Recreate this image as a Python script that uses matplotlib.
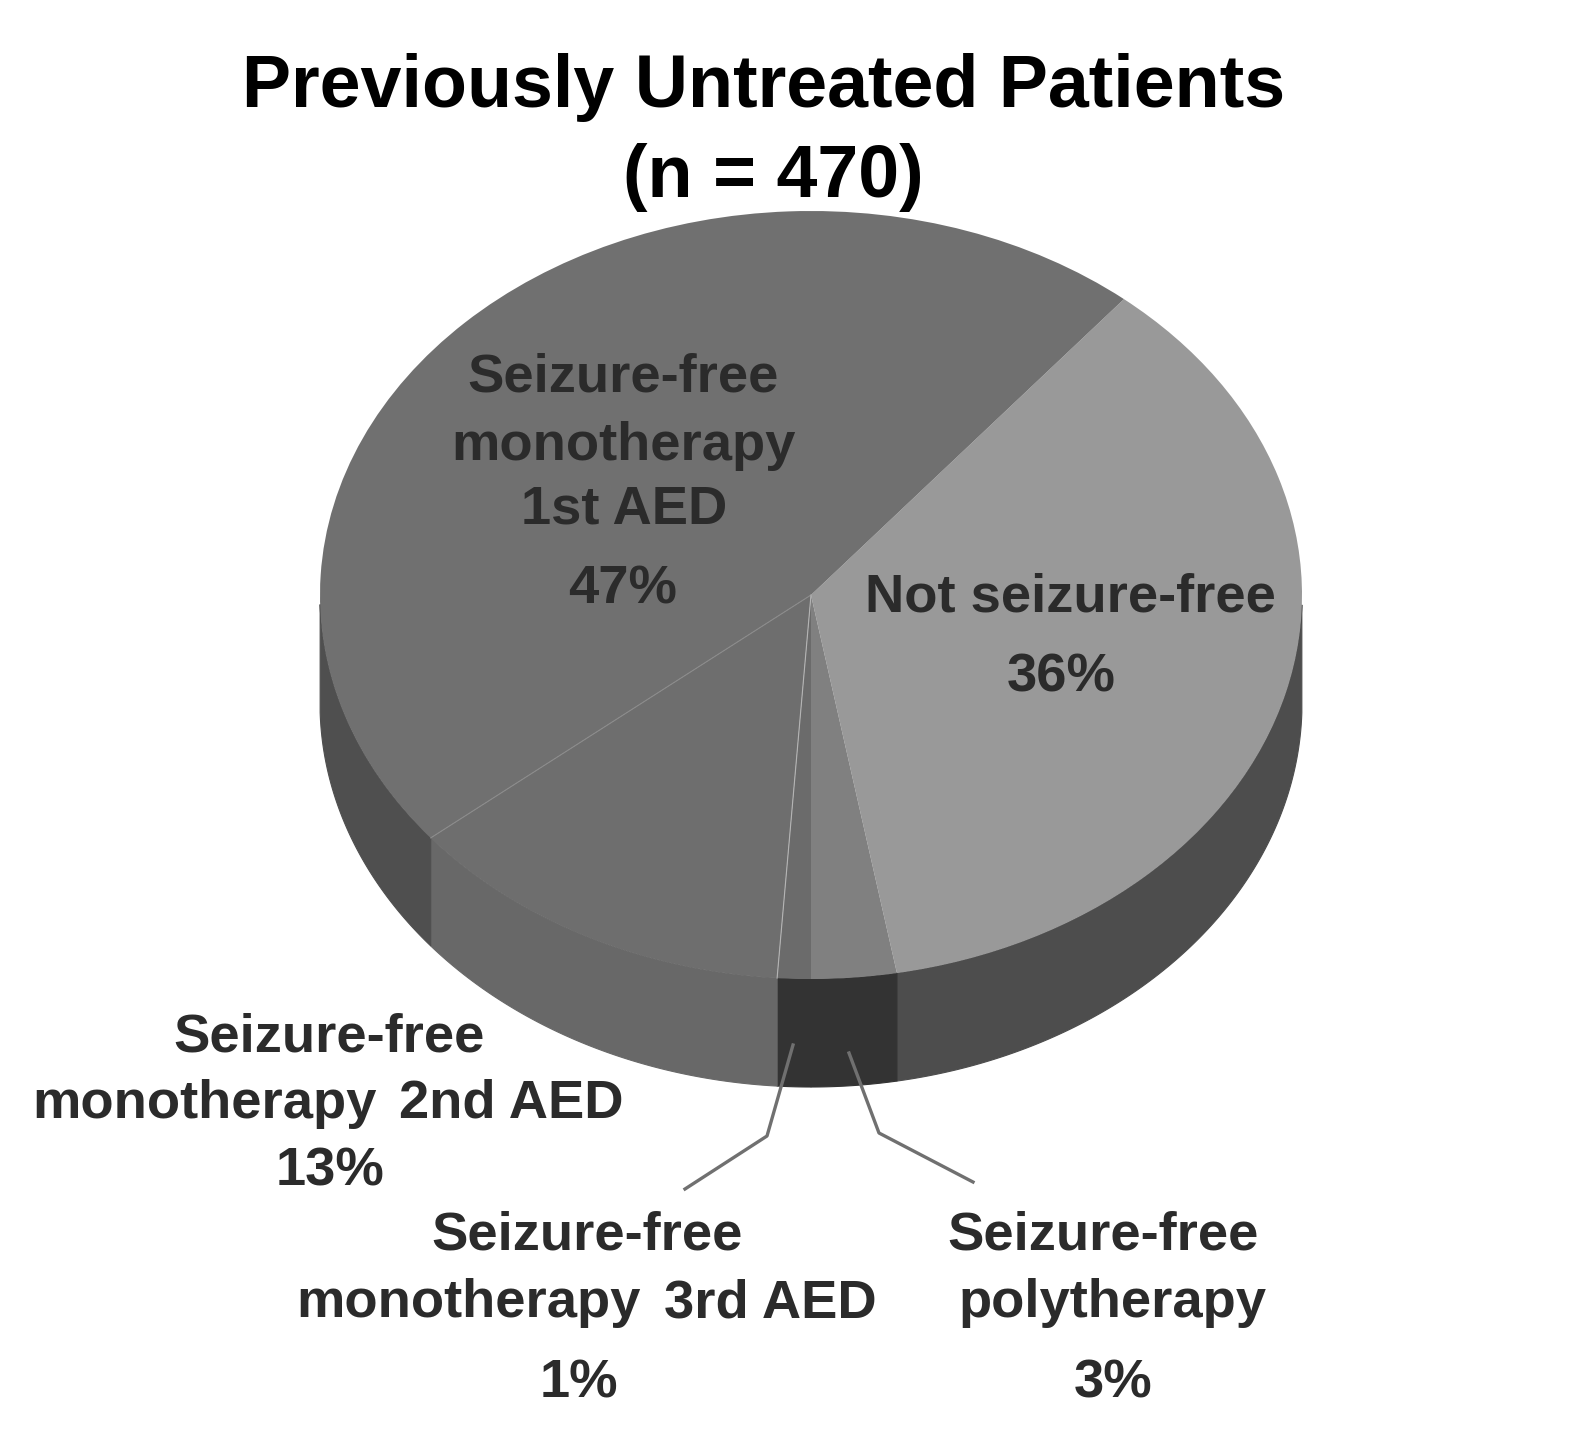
import numpy as np
import matplotlib
matplotlib.use("Agg")
import matplotlib.pyplot as plt

W, H = 1582, 1443
plt.rcParams['font.family'] = ['Liberation Sans', 'DejaVu Sans']

categories = ["Not seizure-free", "Seizure-free polytherapy", "Seizure-free monotherapy 3rd AED",
              "Seizure-free monotherapy 2nd AED", "Seizure-free monotherapy 1st AED"]
values = [36.2, 2.8, 1.1, 13.0, 46.9]
top_colors = ["#999999", "#808080", "#6b6b6b", "#6e6e6e", "#707070"]
side_colors = ["#4d4d4d", "#333333", "#333333", "#686868", "#4f4f4f"]
start_angle = 50.4

fig = plt.figure(figsize=(W / 100, H / 100), dpi=100, facecolor="white")
ax = fig.add_axes([0, 0, 1, 1])
ax.set_xlim(0, W)
ax.set_ylim(H, 0)
ax.axis("off")

cx, cy, rx, ry, depth = 811, 595, 491, 384, 108

# side walls
angles = start_angle - np.cumsum([0] + values) * 3.6
for i in range(len(values)):
    a0, a1 = angles[i], angles[i + 1]
    t = np.radians(np.linspace(a0, a1, 300))
    t = t[np.sin(t) <= -0.02]
    x = cx + rx * np.cos(t)
    y = cy - ry * np.sin(t)
    ax.fill(np.r_[x, x[::-1]], np.r_[y, y[::-1] + depth], facecolor=side_colors[i],
            edgecolor=side_colors[i], lw=0.8, zorder=1)

# top, a pie squeezed into the ellipse
pie_ax = fig.add_axes([(cx - rx) / W, 1 - (cy + ry) / H, 2 * rx / W, 2 * ry / H])
pie_ax.patch.set_alpha(0)
pie_ax.pie(values, colors=top_colors, startangle=start_angle, counterclock=False, radius=1,
           wedgeprops=dict(linewidth=0))
pie_ax.set_xlim(-1, 1)
pie_ax.set_ylim(-1, 1)
pie_ax.set_aspect("auto")

# thin highlights on the slice boundaries
for k, col, lw in ((4, "#8a8a8a", 0.8), (3, "#b4b4b4", 0.8)):
    t = np.radians(angles[k])
    pie_ax.plot([0, np.cos(t)], [0, np.sin(t)], color=col, lw=lw, zorder=5)

ov = fig.add_axes([0, 0, 1, 1])
ov.set_xlim(0, W)
ov.set_ylim(H, 0)
ov.axis("off")
ov.patch.set_alpha(0)

title_style = dict(ha="center", va="center", fontweight="bold", color="black", fontsize=53)
ov.text(764, 88, "Previously Untreated Patients", **title_style)
ov.text(773, 178, "(n = 470)", **title_style)

label_style = dict(ha="center", va="center", fontweight="bold", color="#2b2b2b", fontsize=39.2)
labels = [(623, 377, "Seizure-free"), (623, 446, "monotherapy"), (624, 510, "1st AED"), (623, 590, "47%"),
          (1070, 597, "Not seizure-free"), (1061, 677, "36%"),
          (329, 1038, "Seizure-free"), (204, 1104, "monotherapy"), (511, 1104, "2nd AED"), (330, 1171, "13%"),
          (587, 1236, "Seizure-free"), (468, 1303, "monotherapy"), (770, 1303, "3rd AED"), (579, 1384, "1%"),
          (1103, 1236, "Seizure-free"), (1112, 1303, "polytherapy"), (1113, 1384, "3%")]
for x, y, s in labels:
    ov.text(x, y, s, **label_style)

# leader lines
ov.plot([793, 767, 685], [1045, 1136, 1189], color="#707070", lw=2.4)
ov.plot([849, 879, 973], [1053, 1133, 1182], color="#707070", lw=2.4)

fig.savefig("out.png", dpi=100, facecolor="white")
